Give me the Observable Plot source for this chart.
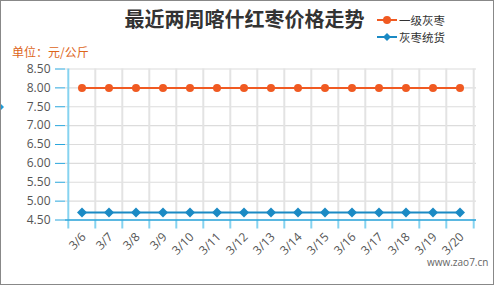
<!DOCTYPE html>
<html><head><meta charset="utf-8">
<script src="https://cdn.jsdelivr.net/npm/d3@7"></script>
<script src="https://cdn.jsdelivr.net/npm/@observablehq/plot@0.6"></script>
<style>
body{margin:0;background:#fff;font-family:"Open Sans","Noto Sans CJK SC",sans-serif;}
#wrap{position:relative;width:495px;height:286px;overflow:hidden;}
#border{position:absolute;left:0;top:0;width:492px;height:283px;border:1px solid #888;pointer-events:none;}
#title{position:absolute;left:0;top:5px;width:489px;text-align:center;font:bold 20px "Noto Sans CJK SC",sans-serif;line-height:28px;color:#333;}
#unit{position:absolute;left:12px;top:42px;font:12px "Noto Sans CJK SC",sans-serif;line-height:20px;color:#dd6519;}
.leg{position:absolute;left:377px;height:16px;display:flex;align-items:center;font:11.5px "Noto Sans CJK SC",sans-serif;color:#333;}
.leg svg{margin-right:1px;}
#wm{position:absolute;left:427px;top:255px;font:10px "Open Sans",sans-serif;color:#666;}
#tri{position:absolute;left:0;top:103px;width:0;height:0;border-top:4px solid transparent;border-bottom:4px solid transparent;border-left:4px solid #1e9bd7;}
#chart{position:absolute;left:0;top:0;}
</style></head>
<body>
<div id="wrap">
  <div id="chart"></div>
  <div id="title"></div>
  <div id="unit"></div>
  <div id="legend"></div>
  <div id="wm"></div>
  <div id="tri"></div>
  <div id="border"></div>
</div>
<script>
const titleText = "最近两周喀什红枣价格走势";
const unitText = "单位：元/公斤";
const watermark = "www.zao7.cn";
const dates = ["3/6","3/7","3/8","3/9","3/10","3/11","3/12","3/13","3/14","3/15","3/16","3/17","3/18","3/19","3/20"];
const seriesNames = ["一级灰枣","灰枣统货"];
const grade1 = [8.00,8.00,8.00,8.00,8.00,8.00,8.00,8.00,8.00,8.00,8.00,8.00,8.00,8.00,8.00];
const tonghuo = [4.70,4.70,4.70,4.70,4.70,4.70,4.70,4.70,4.70,4.70,4.70,4.70,4.70,4.70,4.70];
const yTicks = [4.5,5.0,5.5,6.0,6.5,7.0,7.5,8.0,8.5];
const colors = ["#f05a22","#1b8ac4"];

document.getElementById("title").textContent = titleText;
document.getElementById("unit").textContent = unitText;
document.getElementById("wm").textContent = watermark;

const rows1 = dates.map((d,i)=>({date:d, v:grade1[i]}));
const rows2 = dates.map((d,i)=>({date:d, v:tonghuo[i]}));

const W = 495, H = 286, mL = 65, mR = 19, mT = 68.5, mB = 66.5;
const bw = (W - mL - mR) / dates.length;

const chart = Plot.plot({
  width: W, height: H,
  marginLeft: mL, marginRight: mR, marginTop: mT, marginBottom: mB,
  style: {fontFamily: '"Open Sans", sans-serif', fontSize: "12px", background: "transparent", overflow: "visible"},
  x: {type: "band", domain: dates, padding: 0, label: null},
  y: {domain: [4.5, 8.5], label: null},
  marks: [
    Plot.ruleY(yTicks, {stroke: "#dcdcdc", strokeWidth: 1.2}),
    Plot.ruleX(dates.slice(1), {dx: -bw/2, stroke: "#e3e3e3", strokeWidth: 2}),
    Plot.ruleX([dates[dates.length-1]], {dx: bw/2, stroke: "#e3e3e3", strokeWidth: 2}),
    Plot.ruleX(dates, {dx: -bw/2, y1: 4.5, y2: 4.5, insetBottom: -9, stroke: "#86d3f0", strokeWidth: 2}),
    Plot.ruleX([dates[dates.length-1]], {dx: bw/2, y1: 4.5, y2: 4.5, insetBottom: -9, stroke: "#86d3f0", strokeWidth: 2}),
    Plot.ruleX([dates[0]], {dx: -bw/2, stroke: "#86d3f0", strokeWidth: 2}),
    Plot.ruleY([4.5], {stroke: "#2aa6dc", strokeWidth: 1.5}),
    Plot.axisY({ticks: yTicks, tickFormat: d3.format(".2f"), tickSize: 10, tickPadding: 5, stroke: "#2aa6dc", color: "#555", fontSize: 12}),
    Plot.axisX({tickSize: 0, tickRotate: -45, tickPadding: 15, dx: 2, color: "#555", fontSize: 12}),
    Plot.line(rows1, {x: "date", y: "v", stroke: colors[0], strokeWidth: 2}),
    Plot.dot(rows1, {x: "date", y: "v", fill: colors[0], r: 4}),
    Plot.line(rows2, {x: "date", y: "v", stroke: colors[1], strokeWidth: 2}),
    Plot.dot(rows2, {x: "date", y: "v", fill: colors[1], symbol: "diamond2", r: 4.5})
  ]
});
document.getElementById("chart").appendChild(chart);

// legend
const legend = document.getElementById("legend");
seriesNames.forEach((name, i) => {
  const row = document.createElement("div");
  row.className = "leg";
  row.style.top = (12 + i*17) + "px";
  const sym = i === 0
    ? `<circle cx="10" cy="8" r="4" fill="${colors[0]}"/>`
    : `<path d="M10 4 L14 8 L10 12 L6 8 Z" fill="${colors[1]}"/>`;
  row.innerHTML = `<svg width="21" height="16"><line x1="0" x2="20" y1="8" y2="8" stroke="${colors[i]}" stroke-width="2"/>${sym}</svg><span>${name}</span>`;
  legend.appendChild(row);
});
</script>
</body></html>
